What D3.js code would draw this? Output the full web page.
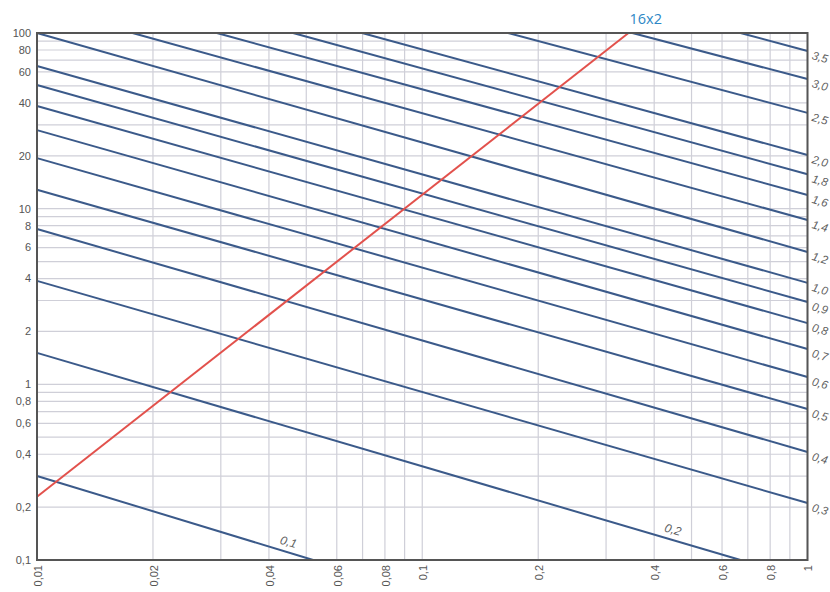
<!DOCTYPE html>
<html>
<head>
<meta charset="utf-8">
<script src="https://cdn.jsdelivr.net/npm/d3@7"></script>
<style>
  body { margin: 0; background: #fff; }
  svg { display: block; }
</style>
</head>
<body>
<div id="chart"></div>
<script>
const width = 830
const height = 592

// tick labels
const xTicks = [0.01, 0.02, 0.04, 0.06, 0.08, 0.1, 0.2, 0.4, 0.6, 0.8, 1]
const yTicks = [0.1, 0.2, 0.4, 0.6, 0.8, 1, 2, 4, 6, 8, 10, 20, 40, 60, 80, 100]

// velocity lines: label, where each enters and leaves the plot
const velocityLabels = ["0,1", "0,2", "0,3", "0,4", "0,5", "0,6", "0,7", "0,8", "0,9",
  "1,0", "1,2", "1,4", "1,6", "1,8", "2,0", "2,5", "3,0", "3,5"]
const lineStart = [
  [0.01, 0.301], [0.01, 1.51], [0.01, 3.88], [0.01, 7.66], [0.01, 12.8], [0.01, 19.4],
  [0.01, 28.0], [0.01, 38.4], [0.01, 50.6], [0.01, 64.9], [0.01, 100],
  [0.0177, 100], [0.0293, 100], [0.0462, 100], [0.0698, 100], [0.167, 100],
  [0.351, 100], [0.670, 100]
]
const lineEnd = [
  [0.0521, 0.1], [0.670, 0.1], [1, 0.211], [1, 0.412], [1, 0.724], [1, 1.10],
  [1, 1.59], [1, 2.23], [1, 2.94], [1, 3.78], [1, 5.67],
  [1, 8.62], [1, 11.97], [1, 15.7], [1, 20.2], [1, 35.1],
  [1, 54.7], [1, 79.0]
]

// red pipe curve
const pipeLabel = "16x2"
const pipeLine = [[0.01, 0.229], [0.343, 100]]

const fmt = d => String(d).replace(".", ",")

const svg = d3.select("#chart")
  .append("svg")
  .attr("width", width)
  .attr("height", height)

const x = d3.scaleLog().domain([0.01, 1]).range([37, 807.5])
const y = d3.scaleLog().domain([0.1, 100]).range([560, 33])

// grid
svg.append("g")
  .selectAll("line")
  .data(x.ticks())
  .join("line")
  .attr("x1", d => x(d)).attr("x2", d => x(d))
  .attr("y1", y(100)).attr("y2", y(0.1))
  .attr("stroke", "#cfcfd8")
  .attr("stroke-width", 1.2)

svg.append("g")
  .selectAll("line")
  .data(y.ticks())
  .join("line")
  .attr("x1", x(0.01)).attr("x2", x(1))
  .attr("y1", d => y(d)).attr("y2", d => y(d))
  .attr("stroke", "#cfcfd8")
  .attr("stroke-width", 1.2)

// velocity lines
const lines = svg.append("g")
velocityLabels.forEach((lab, i) => {
  const [x0, y0] = lineStart[i]
  const [x1, y1] = lineEnd[i]
  const px0 = x(x0), py0 = y(y0), px1 = x(x1), py1 = y(y1)
  lines.append("line")
    .attr("x1", px0).attr("y1", py0)
    .attr("x2", px1).attr("y2", py1)
    .attr("stroke", "#3b5a8a")
    .attr("stroke-width", 2)
  const ang = Math.atan2(py1 - py0, px1 - px0) * 180 / Math.PI
  if (x1 === 1) {
    lines.append("text")
      .attr("transform", `translate(${px1 + 4.5},${py1 + 5}) rotate(${ang})`)
      .attr("dominant-baseline", "middle")
      .attr("font-size", 11.5)
      .text(lab)
  } else {
    // inline label just above the line near its lower end
    const t = 0.9
    const tx = px0 + (px1 - px0) * t
    const ty = py0 + (py1 - py0) * t
    lines.append("text")
      .attr("transform", `translate(${tx},${ty}) rotate(${ang}) translate(0,-6)`)
      .attr("text-anchor", "middle")
      .attr("font-size", 12)
      .text(lab)
  }
})
lines.selectAll("text")
  .attr("font-family", "Liberation Sans, Arial, sans-serif")
  .attr("font-style", "italic")
  .attr("fill", "#5f5f5f")

// red line
svg.append("path")
  .datum(pipeLine)
  .attr("d", d3.line().x(d => x(d[0])).y(d => y(d[1])))
  .attr("fill", "none")
  .attr("stroke", "#e2514c")
  .attr("stroke-width", 2)

svg.append("text")
  .attr("x", x(pipeLine[1][0]) + 1)
  .attr("y", y(100) - 9)
  .attr("font-family", "Open Sans, sans-serif")
  .attr("font-size", 14.5)
  .attr("fill", "#2d87c6")
  .text(pipeLabel)

// frame
svg.append("rect")
  .attr("x", x(0.01)).attr("y", y(100))
  .attr("width", x(1) - x(0.01))
  .attr("height", y(0.1) - y(100))
  .attr("fill", "none")
  .attr("stroke", "#555")
  .attr("stroke-width", 2)

// axis labels
svg.append("g")
  .selectAll("text")
  .data(yTicks)
  .join("text")
  .attr("x", 31)
  .attr("y", d => y(d))
  .attr("dy", "0.35em")
  .attr("text-anchor", "end")
  .attr("font-family", "Liberation Sans, Arial, sans-serif")
  .attr("font-size", 11)
  .attr("fill", "#555")
  .text(fmt)

svg.append("g")
  .selectAll("text")
  .data(xTicks)
  .join("text")
  .attr("transform", d => `translate(${x(d) + 1},565) rotate(-90)`)
  .attr("dy", "0.35em")
  .attr("text-anchor", "end")
  .attr("font-family", "Liberation Sans, Arial, sans-serif")
  .attr("font-size", 11)
  .attr("fill", "#555")
  .text(fmt)
</script>
</body>
</html>
